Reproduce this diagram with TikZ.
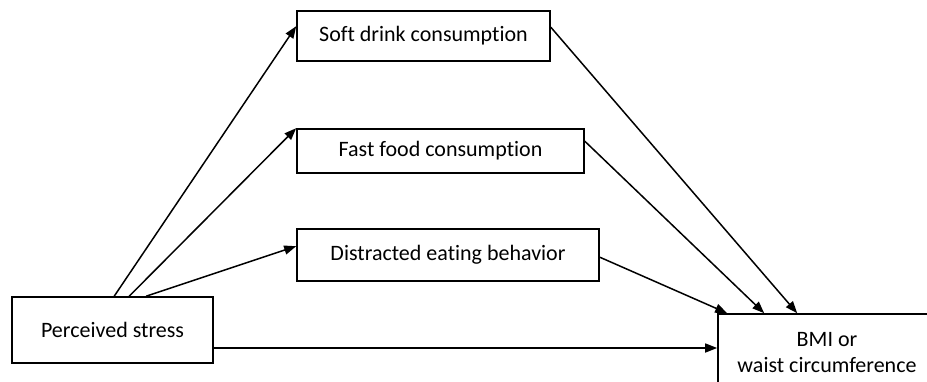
\documentclass[tikz,border=0pt]{standalone}
\usepackage{fontspec}
\setmainfont{Carlito}[Ligatures=NoCommon]
\usetikzlibrary{arrows.meta}

\tikzset{
    varbox/.style={draw,line width=1.6pt,inner sep=0pt,align=center,font=\fontsize{22}{26}\selectfont},
    path/.style={line width=1.5pt,-{Triangle[length=12pt,width=9pt]}}
}

\begin{document}
\begin{tikzpicture}[x=1pt,y=-1pt]
        \useasboundingbox[clip] (0,0) rectangle (927,381);
        \node[varbox,minimum width=201pt,minimum height=66pt] (stress) at (112.5,330) {Perceived stress};
        \node[varbox,minimum width=253pt,minimum height=50pt] (soft) at (423.5,36) {Soft drink consumption};
        \node[varbox,minimum width=287pt,minimum height=44pt] (fast) at (440.5,151) {Fast food consumption};
        \node[varbox,minimum width=302pt,minimum height=52pt] (dist) at (448,255) {Distracted eating behavior};
        \node[varbox,minimum width=218pt,minimum height=78pt] (bmi) at (827,353) {BMI or\\waist circumference};
        % stress to mediators
        \draw[path] ([xshift=103pt]stress.north west) -- ([yshift=-16pt]soft.north west);
        \draw[path] ([xshift=118pt]stress.north west) -- (fast.north west);
        \draw[path] ([xshift=135pt]stress.north west) -- ([yshift=-18pt]dist.north west);
        % mediators to outcome
        \draw[path] ([yshift=-17pt]soft.north east) -- ([xshift=80pt]bmi.north west);
        \draw[path] ([yshift=-13pt]fast.north east) -- ([xshift=47pt]bmi.north west);
        \draw[path] ([yshift=-29pt]dist.north east) -- ([xshift=10pt]bmi.north west);
        % direct path
        \draw[path] ([yshift=-18pt]stress.east) -- ([yshift=-18pt]stress.east -| bmi.west);
    \end{tikzpicture}
\end{document}
